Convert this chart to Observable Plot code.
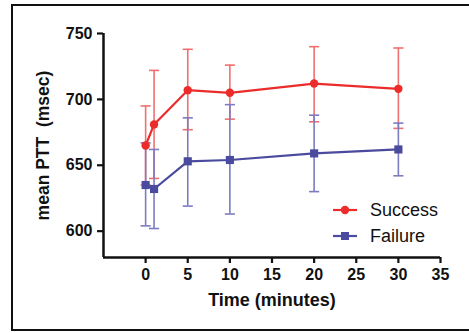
<!DOCTYPE html>
<html>
<head>
<meta charset="utf-8">
<script src="https://cdn.jsdelivr.net/npm/d3@7"></script>
<script src="https://cdn.jsdelivr.net/npm/@observablehq/plot@0.6"></script>
<style>
  html, body { margin: 0; padding: 0; background: #fff; }
  #wrap { position: relative; width: 469px; height: 333px; overflow: hidden; font-family: "Liberation Sans", Arial, sans-serif; }
  #frame { position: absolute; left: 11px; top: 4px; width: 470px; height: 327px; border: 2px solid #111; box-sizing: border-box; }
  #legend { position: absolute; left: 333px; top: 197px; font-size: 18px; color: #111; }
  #legend .row { display: flex; align-items: center; height: 26px; }
  #legend svg { margin-right: 12px; }
  #chart { position: absolute; left: 0; top: 0; }
</style>
</head>
<body>
<div id="wrap">
  <div id="frame"></div>
  <div id="chart"></div>
  <div id="legend"></div>
</div>
<script>
const times = [0, 1, 5, 10, 20, 30];
const seriesNames = ["Success", "Failure"];
const successMean = [665, 681, 707, 705, 712, 708];
const successHigh = [695, 722, 738, 726, 740, 739];
const successLow  = [635, 640, 677, 685, 683, 678];
const failureMean = [635, 632, 653, 654, 659, 662];
const failureHigh = [667, 662, 686, 696, 688, 682];
const failureLow  = [604, 602, 619, 613, 630, 642];
const xTicks = [0, 5, 10, 15, 20, 25, 30, 35];
const yTicks = [600, 650, 700, 750];
const xLabel = "Time (minutes)";
const yLabel = "mean PTT\u00a0\u00a0(msec)";

const colors = {Success: "#ec2b2b", Failure: "#4a4a9e"};
const errColors = {Success: "#f07070", Failure: "#7c7cc0"};

const rows = [];
times.forEach((t, i) => {
  rows.push({series: "Success", x: t, y: successMean[i], hi: successHigh[i], lo: successLow[i]});
});
times.forEach((t, i) => {
  rows.push({series: "Failure", x: t, y: failureMean[i], hi: failureHigh[i], lo: failureLow[i]});
});
const S = rows.filter(d => d.series === "Success");
const F = rows.filter(d => d.series === "Failure");
const capHalf = 0.6;

function errMarks(data, name) {
  const c = errColors[name];
  return [
    Plot.ruleX(data, {x: "x", y1: "lo", y2: "hi", stroke: c, strokeWidth: 1.6}),
    Plot.link(data, {x1: d => d.x - capHalf, x2: d => d.x + capHalf, y1: "hi", y2: "hi", stroke: c, strokeWidth: 1.6}),
    Plot.link(data, {x1: d => d.x - capHalf, x2: d => d.x + capHalf, y1: "lo", y2: "lo", stroke: c, strokeWidth: 1.6})
  ];
}

const chart = Plot.plot({
  width: 469,
  height: 333,
  marginLeft: 103,
  marginRight: 29,
  marginTop: 33,
  marginBottom: 76,
  style: {fontFamily: "'Liberation Sans', Arial, sans-serif", background: "transparent", color: "#111"},
  x: {domain: [-5, 35]},
  y: {domain: [580, 750]},
  marks: [
    ...errMarks(S, "Success"),
    ...errMarks(F, "Failure"),
    Plot.line(S, {x: "x", y: "y", stroke: colors.Success, strokeWidth: 2.2}),
    Plot.line(F, {x: "x", y: "y", stroke: colors.Failure, strokeWidth: 2.2}),
    Plot.dot(S, {x: "x", y: "y", r: 4.2, fill: colors.Success, symbol: "circle"}),
    Plot.dot(F, {x: "x", y: "y", r: 4.6, fill: colors.Failure, symbol: "square"}),
    Plot.ruleX([-5], {y1: 580, y2: 750, stroke: "#111", strokeWidth: 2.5}),
    Plot.ruleY([580], {x1: -5, x2: 35, stroke: "#111", strokeWidth: 2.5}),
    Plot.axisY({ticks: yTicks, tickSize: 6, tickPadding: 5, tickFormat: d3.format("d"), fontSize: 16, fontWeight: "bold", strokeWidth: 2.2, label: null}),
    Plot.axisX({ticks: xTicks, tickSize: 6, tickPadding: 5, tickFormat: d3.format("d"), fontSize: 16, fontWeight: "bold", strokeWidth: 2.2, label: null}),
    Plot.text([yLabel], {frameAnchor: "left", rotate: -90, dx: -60, textAnchor: "middle", lineAnchor: "middle", fontSize: 17.5, fontWeight: "bold", fill: "#111"}),
    Plot.text([xLabel], {frameAnchor: "bottom", dy: 43, textAnchor: "middle", lineAnchor: "middle", fontSize: 18, fontWeight: "bold", fill: "#111"})
  ]
});
document.getElementById("chart").appendChild(chart);

const legend = document.getElementById("legend");
seriesNames.forEach(name => {
  const row = document.createElement("div");
  row.className = "row";
  const marker = name === "Success"
    ? `<circle cx="12" cy="6" r="4.2" fill="${colors[name]}"/>`
    : `<rect x="8" y="2" width="8" height="8" fill="${colors[name]}"/>`;
  row.innerHTML = `<svg width="25" height="12"><line x1="0" x2="24" y1="6" y2="6" stroke="${colors[name]}" stroke-width="2.2"/>${marker}</svg><span>${name}</span>`;
  legend.appendChild(row);
});
</script>
</body>
</html>
